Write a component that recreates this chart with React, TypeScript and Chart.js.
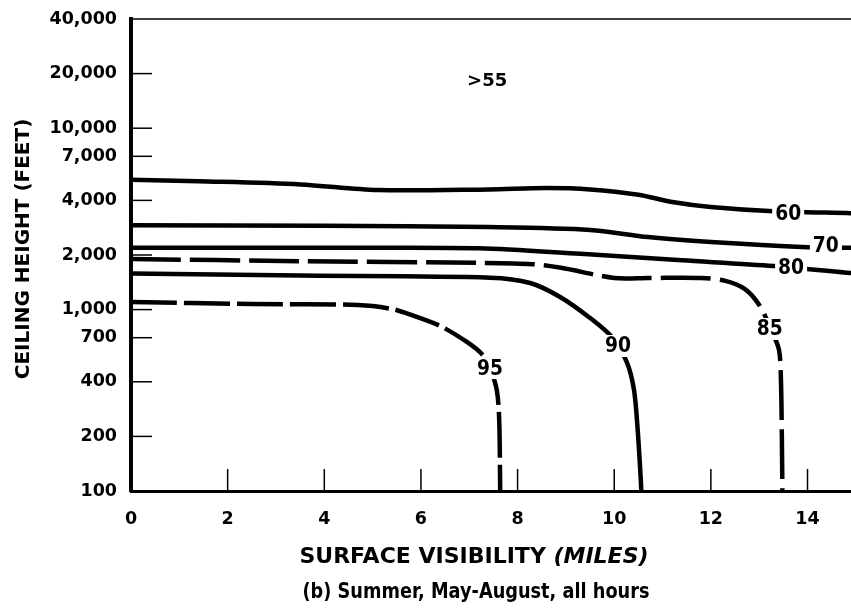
import React, { useEffect, useRef } from "react";
import { Chart, registerables } from "chart.js";

Chart.register(...registerables);

// ---- axis ticks ----
const xTickValues = [0, 2, 4, 6, 8, 10, 12, 14];
const yTickValues = [100, 200, 400, 700, 1000, 2000, 4000, 7000, 10000, 20000, 40000];

// ---- contour lines: surface visibility (miles) / ceiling height (feet) ----
const vis60 = [0, 1.4, 3.5, 5.1, 7.4, 8.6, 9.5, 10.5, 11.2, 12.0, 13.2, 14.9];
const ceil60 = [5200, 5100, 4900, 4560, 4600, 4680, 4600, 4300, 3920, 3680, 3500, 3400];

const vis70 = [0, 4.0, 7.4, 9.5, 10.7, 12.0, 14.0, 14.9];
const ceil70 = [2920, 2900, 2850, 2750, 2510, 2360, 2210, 2190];

const vis80 = [0, 4.0, 7.2, 9.3, 11.4, 13.3, 14.9];
const ceil80 = [2190, 2190, 2180, 2030, 1870, 1740, 1590];

const vis85 = [0, 3.5, 7.2, 8.3, 8.9, 10.0, 10.7, 11.8, 12.3, 12.7, 13.0, 13.25, 13.41, 13.45, 13.47, 13.48];
const ceil85 = [1900, 1850, 1810, 1780, 1700, 1494, 1494, 1494, 1440, 1300, 1060, 772, 600, 410, 190, 100];

const vis90 = [0, 3.5, 7.43, 8.26, 8.88, 9.5, 9.95, 10.26, 10.41, 10.49, 10.55, 10.56];
const ceil90 = [1580, 1540, 1500, 1402, 1174, 899, 706, 514, 360, 209, 115, 100];

const vis95 = [0, 2.5, 4.7, 5.4, 5.8, 6.4, 6.95, 7.28, 7.43, 7.57, 7.62, 7.64];
const ceil95 = [1100, 1074, 1060, 1008, 934, 812, 663, 562, 476, 360, 246, 100];

// ---- contour labels ----
const contourLabels = ["60", "70", "80", "85", "90", "95", ">55"];
const labelVis = [13.6, 14.38, 13.66, 13.22, 10.08, 7.43, 7.37];
const labelCeil = [3365, 2242, 1695, 782, 630, 476, 18440];

const FONT = "'DejaVu Sans', sans-serif";

const toPoints = (xs: number[], ys: number[]) => xs.map((x, i) => ({ x, y: ys[i] }));

export default function App() {
  const ref = useRef<HTMLCanvasElement>(null);

  useEffect(() => {
    const canvas = ref.current!;
    const lineDs = (label: string, xs: number[], ys: number[], dash: number[]) => ({
      label,
      data: toPoints(xs, ys),
      borderColor: "#000",
      borderWidth: 4.5,
      borderDash: dash,
      borderCapStyle: dash.length ? "butt" : "round",
      borderJoinStyle: "round",
      pointRadius: 0,
      tension: 0.3,
      fill: false,
    });

    const decor = {
      id: "decor",
      afterDraw(chart: any) {
        const { ctx, chartArea: a, scales } = chart;
        const x = scales.x;
        const y = scales.y;
        ctx.save();
        ctx.strokeStyle = "#000";
        ctx.fillStyle = "#000";
        // top frame line
        ctx.lineWidth = 1.5;
        ctx.beginPath();
        ctx.moveTo(a.left, a.top);
        ctx.lineTo(a.right, a.top);
        ctx.stroke();
        // inner tick marks
        ctx.lineWidth = 1.5;
        yTickValues.forEach((v) => {
          if (v === yTickValues[0] || v === yTickValues[yTickValues.length - 1]) return;
          const py = y.getPixelForValue(v);
          ctx.beginPath();
          ctx.moveTo(a.left, py);
          ctx.lineTo(a.left + 21, py);
          ctx.stroke();
        });
        xTickValues.forEach((v) => {
          if (v === 0) return;
          const px = x.getPixelForValue(v);
          ctx.beginPath();
          ctx.moveTo(px, a.bottom);
          ctx.lineTo(px, a.bottom - 22);
          ctx.stroke();
        });
        // contour labels
        ctx.textAlign = "center";
        ctx.textBaseline = "middle";
        contourLabels.forEach((t, i) => {
          const px = x.getPixelForValue(labelVis[i]);
          const py = y.getPixelForValue(labelCeil[i]);
          const big = t !== ">55";
          ctx.font = `bold ${big ? 21 : 18}px ${FONT}`;
          const maxW = big ? 26 : 41;
          const w = Math.min(ctx.measureText(t).width, maxW);
          if (big) {
            ctx.fillStyle = "#fff";
            ctx.fillRect(px - w / 2 - 3, py - 11, w + 6, 22);
          }
          ctx.fillStyle = "#000";
          ctx.fillText(t, px, py + 1, maxW);
        });
        // y title
        ctx.save();
        ctx.translate(24, 249);
        ctx.rotate(-Math.PI / 2);
        ctx.font = `bold 20px ${FONT}`;
        ctx.fillText("CEILING HEIGHT (FEET)", 0, 0);
        ctx.restore();
        // x title
        const part1 = "SURFACE VISIBILITY ";
        const part2 = "(MILES)";
        ctx.font = `bold 22px ${FONT}`;
        const w1 = ctx.measureText(part1).width;
        ctx.font = `italic bold 22px ${FONT}`;
        const w2 = ctx.measureText(part2).width;
        const scale = Math.min(1, 352 / (w1 + w2));
        const startX = 474 - ((w1 + w2) * scale) / 2;
        ctx.textAlign = "left";
        ctx.font = `bold 22px ${FONT}`;
        ctx.fillText(part1, startX, 557, w1 * scale);
        ctx.font = `italic bold 22px ${FONT}`;
        ctx.fillText(part2, startX + w1 * scale, 557, w2 * scale);
        // caption
        ctx.textAlign = "center";
        ctx.font = `bold 22px ${FONT}`;
        ctx.fillText("(b) Summer, May-August, all hours", 476, 592, 347);
        ctx.restore();
      },
    };

    const tickFont = { family: FONT, weight: "bold" as const, size: 17.5 };

    const chart = new Chart(canvas, {
      type: "line",
      data: {
        datasets: [
          lineDs("60", vis60, ceil60, []),
          lineDs("70", vis70, ceil70, []),
          lineDs("80", vis80, ceil80, []),
          lineDs("85", vis85, ceil85, [50, 9]),
          lineDs("90", vis90, ceil90, []),
          lineDs("95", vis95, ceil95, [46, 7]),
        ] as any,
      },
      options: {
        animation: false,
        responsive: false,
        devicePixelRatio: 1,
        parsing: false as any,
        layout: { padding: { top: 19, left: 0, right: 0, bottom: 0 } },
        plugins: {
          legend: { display: false },
          tooltip: { enabled: false },
          title: { display: false },
        },
        scales: {
          x: {
            type: "linear",
            min: 0,
            max: 14.9,
            afterBuildTicks: (s: any) => {
              s.ticks = xTickValues.map((v) => ({ value: v }));
            },
            afterFit: (s: any) => {
              s.height = 121;
            },
            grid: { display: false },
            border: { display: true, width: 3, color: "#000" },
            ticks: {
              font: tickFont,
              color: "#000",
              padding: 10,
              maxRotation: 0,
              autoSkip: false,
            },
          },
          y: {
            type: "logarithmic",
            min: 100,
            max: 40000,
            afterBuildTicks: (s: any) => {
              s.ticks = yTickValues.map((v) => ({ value: v }));
            },
            afterFit: (s: any) => {
              s.width = 131;
            },
            grid: { display: false },
            border: { display: true, width: 4, color: "#000" },
            ticks: {
              font: tickFont,
              color: "#000",
              padding: 6,
              autoSkip: false,
              callback: (v: any) => Number(v).toLocaleString("en-US"),
            },
          },
        },
      } as any,
      plugins: [decor],
    });

    return () => chart.destroy();
  }, []);

  return (
    <div style={{ position: "absolute", left: 0, top: 0, width: 851, height: 612, background: "#fff" }}>
      <canvas ref={ref} width={851} height={612} style={{ display: "block" }} />
    </div>
  );
}
